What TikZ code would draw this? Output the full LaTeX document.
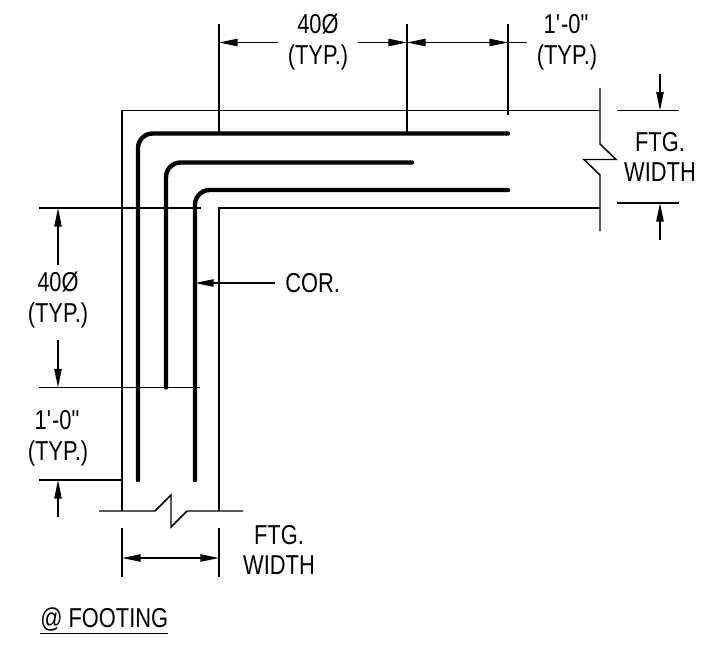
\documentclass[tikz,border=0pt]{standalone}
\usepackage{fontspec}
\setmainfont[FakeStretch=0.8]{Liberation Sans}
\usetikzlibrary{arrows.meta}
\newcommand{\oneft}{1\textquotesingle-0\textquotedbl}

\begin{document}
\begin{tikzpicture}
		[
			x=0.75pt,
			y=-0.75pt,
			% Make a style for the thin outlines and witness lines.
			wall/.style={line width=1.1pt, line join=miter},
			% And one for the reinforcing bars.
			rebar/.style={line width=3.3pt, line cap=round, rounded corners=11pt},
			% Dimension lines with their filled tips.
			dimtip/.style={wall, arrows={-Triangle[length=14pt, width=5.5pt]}},
			dimboth/.style={wall, arrows={Triangle[length=14pt, width=5.5pt]-Triangle[length=14pt, width=5.5pt]}},
			callout/.style={font=\fontsize{20.5}{23}\selectfont, align=center, inner sep=0pt}
		]
			\useasboundingbox (0,0) rectangle (728,646);

			% Footing corners and the ends of the outline.
			\coordinate (outerNW) at (122,110.5);
			\coordinate (outerNE) at (600,110.5);
			\coordinate (outerSW) at (122,511);
			\coordinate (innerNW) at (219,208);
			\coordinate (innerNE) at (600,208);
			\coordinate (innerSW) at (219,511);

			% Draw footing outline.
			\draw[wall] (outerNE) -- (outerNW) -- (outerSW);
			\draw[wall] (innerNE) -- (innerNW) -- (innerSW);

			% Break line at the right.
			\coordinate (rbreakT) at (600,88);
			\coordinate (rbreakB) at (600,231);
			\draw[wall] (rbreakT) -- (600,144) -- (616,159.5) -- (584,159.5) -- (600,175) -- (rbreakB);

			% Break line at the bottom.
			\coordinate (bbreakL) at (99,511);
			\coordinate (bbreakR) at (243,511);
			\draw[wall] (bbreakL) -- (155,511) -- (171,495) -- (171,527) -- (187,511) -- (bbreakR);

			% Draw bars.
			\coordinate (barAe) at (508,133.5);
			\coordinate (barAs) at (138,480);
			\coordinate (barBe) at (412,162.5);
			\coordinate (barBs) at (166,387.5);
			\coordinate (barCe) at (508,190);
			\coordinate (barCs) at (195,480);
			\draw[rebar] (barAe) -- (barAs |- barAe) -- (barAs);
			\draw[rebar] (barBe) -- (barBs |- barBe) -- (barBs);
			\draw[rebar] (barCe) -- (barCs |- barCe) -- (barCs);

			% Top dimension.
			\coordinate (topA) at (219,23.5);
			\coordinate (topB) at (407,23.5);
			\coordinate (topC) at (508,23.5);
			\coordinate (topAd) at (219,134);
			\coordinate (topBd) at (407,134);
			\coordinate (topCd) at (508,115);
			\draw[wall] (topA) -- (topAd);
			\draw[wall] (topB) -- (topBd);
			\draw[wall] (topC) -- (topCd);
			\coordinate (dimA) at (219,42.5);
			\coordinate (dimAg) at (278,42.5);
			\coordinate (dimBg) at (358,42.5);
			\coordinate (dimB) at (407,42.5);
			\coordinate (dimC) at (508,42.5);
			\coordinate (dimCx) at (527,42.5);
			\draw[dimtip] (dimAg) -- (dimA);
			\draw[dimtip] (dimBg) -- (dimB);
			\draw[dimboth] (dimB) -- (dimC);
			\draw[wall] (dimC) -- (dimCx);

			% Right dimension.
			\coordinate (rtickTl) at (617,110.5);
			\coordinate (rtickTr) at (679,110.5);
			\coordinate (rtickBl) at (617,203);
			\coordinate (rtickBr) at (679,203);
			\coordinate (rarrowT) at (660,74);
			\coordinate (rarrowB) at (660,240);
			\draw[wall] (rtickTl) -- (rtickTr);
			\draw[wall] (rtickBl) -- (rtickBr);
			\draw[dimtip] (rarrowT) -- (rarrowT |- rtickTl);
			\draw[dimtip] (rarrowB) -- (rarrowB |- rtickBl);

			% Left dimension.
			\coordinate (ltickA) at (39,208);
			\coordinate (ltickAe) at (201,208);
			\coordinate (ltickB) at (39,387.5);
			\coordinate (ltickBe) at (200,387.5);
			\coordinate (ltickC) at (39,480);
			\coordinate (ltickCe) at (121,480);
			\draw[wall] (ltickA) -- (ltickAe);
			\draw[wall] (ltickB) -- (ltickBe);
			\draw[wall] (ltickC) -- (ltickCe);
			\coordinate (larrowA) at (58,265);
			\coordinate (larrowB) at (58,340);
			\coordinate (larrowC) at (58,517);
			\draw[dimtip] (larrowA) -- (larrowA |- ltickA);
			\draw[dimtip] (larrowB) -- (larrowB |- ltickB);
			\draw[dimtip] (larrowC) -- (larrowC |- ltickC);

			% Bottom dimension.
			\coordinate (btickL) at (122,528);
			\coordinate (btickLe) at (122,577);
			\coordinate (btickR) at (219,528);
			\coordinate (btickRe) at (219,577);
			\draw[wall] (btickL) -- (btickLe);
			\draw[wall] (btickR) -- (btickRe);
			\coordinate (bdimL) at (122,558);
			\coordinate (bdimR) at (219,558);
			\draw[dimboth] (bdimL) -- (bdimR);

			% Labels.
			\node[callout] (topbar) at (318,42) {40Ø\\(TYP.)};
			\node[callout] (topend) at (567,42) {\oneft\\(TYP.)};
			\node[callout] (rightwidth) at (660,157) {FTG.\\WIDTH};
			\node[callout] (leftbar) at (58,300) {40Ø\\(TYP.)};
			\node[callout] (leftend) at (58,438.5) {\oneft\\(TYP.)};
			\node[callout] (bottomwidth) at (279,550) {FTG.\\WIDTH};
			\node[callout, anchor=west] (cor) at (285,283) {COR.};
			\node[callout, anchor=west] (title) at (40,621) {\underline{@ FOOTING}};

			% Center-of-rib pointer.
			\draw[dimtip] ([xshift=-7.5pt]cor.west) -- (barCs |- cor.west);
		\end{tikzpicture}
\end{document}
